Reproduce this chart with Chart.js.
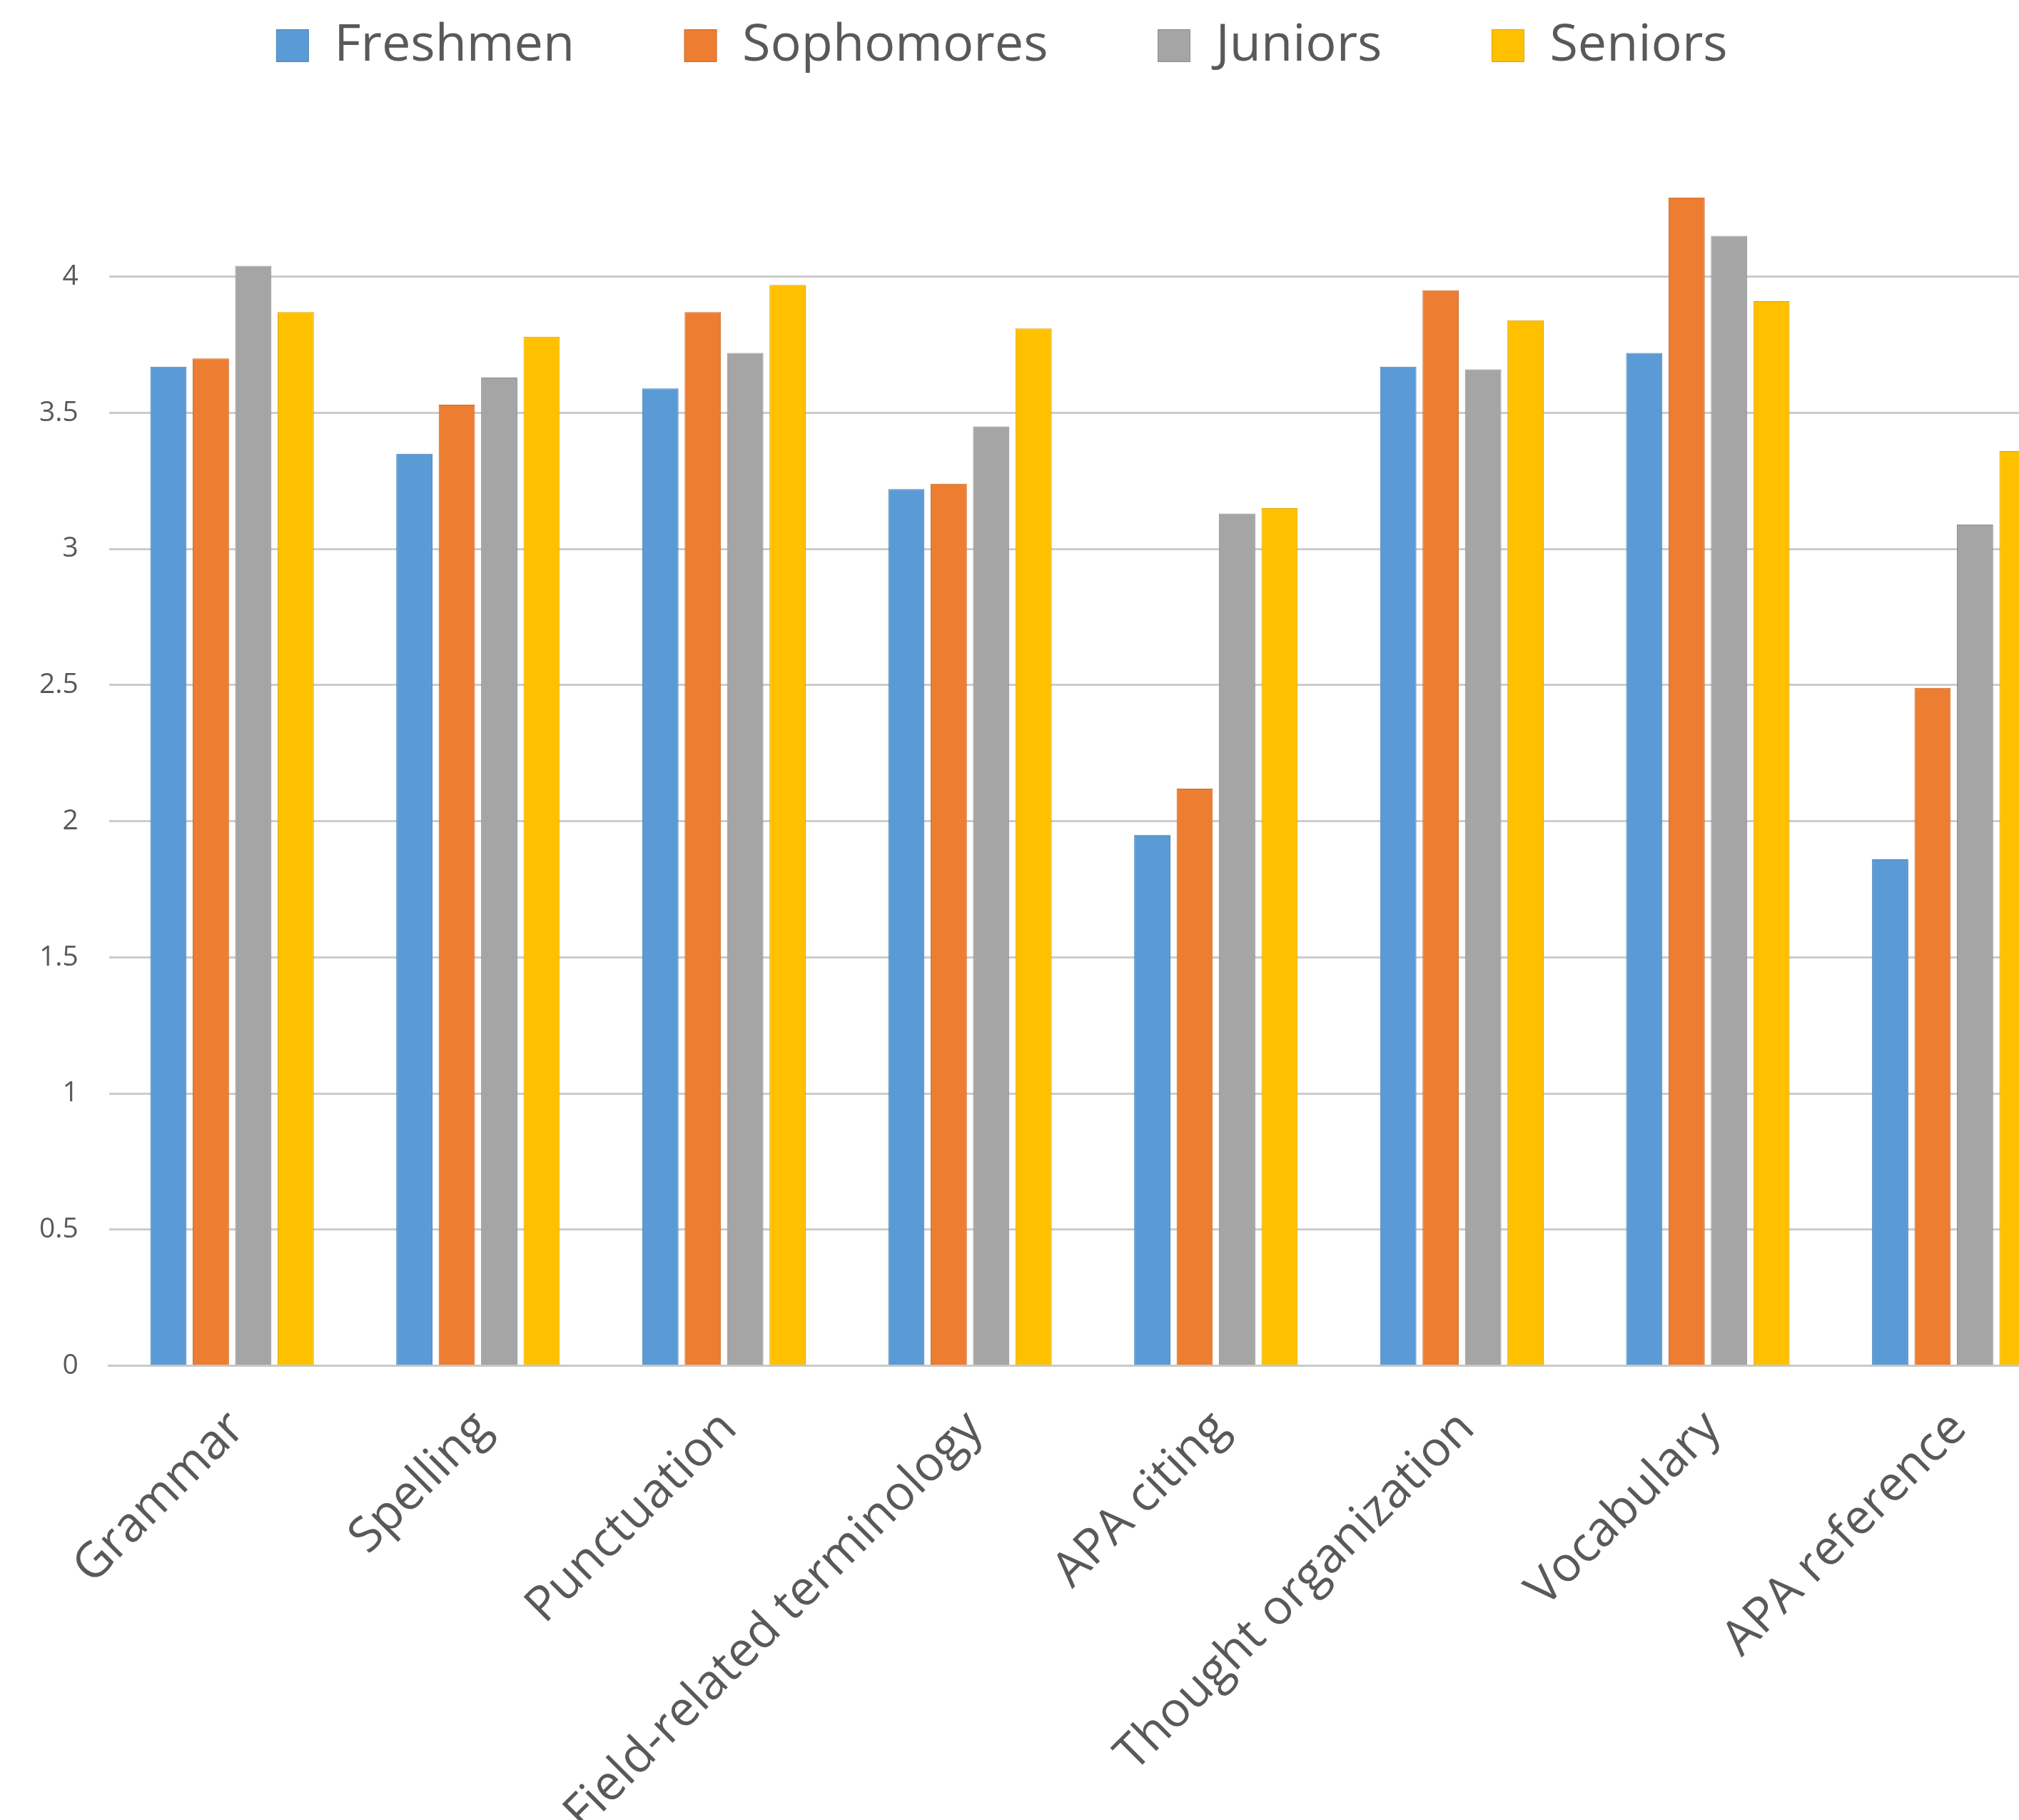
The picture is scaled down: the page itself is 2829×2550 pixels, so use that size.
<!DOCTYPE html>
<html>
<head>
<meta charset="utf-8">
<script src="https://cdn.jsdelivr.net/npm/chart.js@4.4.1/dist/chart.umd.min.js"></script>
<style>
	html, body { margin: 0; padding: 0; background: #ffffff; overflow: hidden; }
	#wrap { position: absolute; left: 0; top: 0; width: 2910px; height: 2622px; }
</style>
</head>
<body>
<div id="wrap"><canvas id="skills"></canvas></div>
<script>
const categories = ["Grammar", "Spelling", "Punctuation", "Field-related terminology", "APA citing", "Thought organization", "Vocabulary", "APA reference"];
const freshmen = [3.67, 3.35, 3.59, 3.22, 1.95, 3.67, 3.72, 1.86];
const sophomores = [3.70, 3.53, 3.87, 3.24, 2.12, 3.95, 4.29, 2.49];
const juniors = [4.04, 3.63, 3.72, 3.45, 3.13, 3.66, 4.15, 3.09];
const seniors = [3.87, 3.78, 3.97, 3.81, 3.15, 3.84, 3.91, 3.36];
const yTicks = [0, 0.5, 1, 1.5, 2, 2.5, 3, 3.5, 4];

const textColor = "#595959";
const fontFamily = "'Open Sans', 'DejaVu Sans', sans-serif";

Chart.defaults.font.family = fontFamily;
Chart.defaults.color = textColor;

const makeSet = (label, values, fill, edge) => ({
	label: label,
	data: values,
	backgroundColor: fill,
	borderColor: edge,
	borderWidth: 1,
	categoryPercentage: 0.69,
	barPercentage: 0.855,
});

// extra room under the legend, and keep the legend centred on the visible page
// (the plot itself runs past the right edge, like the source)
const legendTweak = {
	id: "legendTweak",
	beforeInit(chart) {
		const fit = chart.legend.fit;
		chart.legend.fit = function () {
			fit.bind(chart.legend)();
			this.height += 87;
		};
	},
	afterLayout(chart) {
		const lg = chart.legend;
		lg.right = 2796;
		lg.width = lg.right - lg.left;
	},
};

const ctx = document.getElementById("skills").getContext("2d");
new Chart(ctx, {
	type: "bar",
	data: {
		labels: categories,
		datasets: [
			makeSet("Freshmen", freshmen, "#5B9BD5", "#4A84B8"),
			makeSet("Sophomores", sophomores, "#ED7D31", "#C96A2A"),
			makeSet("Juniors", juniors, "#A5A5A5", "#8C8C8C"),
			makeSet("Seniors", seniors, "#FFC000", "#D9A300"),
		],
	},
	options: {
		responsive: true,
		maintainAspectRatio: false,
		devicePixelRatio: 1,
		animation: false,
		layout: {
			padding: { top: -126, left: 12, right: 0, bottom: 0 },
		},
		plugins: {
			legend: {
				position: "top",
				labels: {
					boxWidth: 45,
					boxHeight: 45,
					padding: 154,
					font: { size: 72 },
					color: textColor,
				},
			},
			tooltip: { enabled: false },
		},
		scales: {
			x: {
				grid: { display: false },
				border: { display: true, color: "#C8C8C8", width: 3 },
				ticks: {
					minRotation: 45,
					maxRotation: 45,
					padding: 40,
					labelOffset: 7,
					font: { size: 68 },
					color: textColor,
				},
			},
			y: {
				min: 0,
				max: 4.5,
				afterBuildTicks: (axis) => {
					axis.ticks = yTicks.map((v) => ({ value: v }));
				},
				grid: { color: "#CCCCCC", lineWidth: 3, drawTicks: false },
				border: { display: false },
				ticks: {
					padding: 43,
					font: { size: 39 },
					color: textColor,
					callback: (v) => String(v),
				},
			},
		},
	},
	plugins: [legendTweak],
});
</script>
</body>
</html>
